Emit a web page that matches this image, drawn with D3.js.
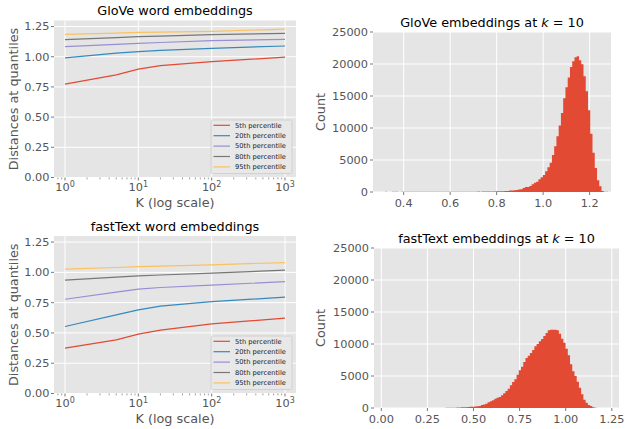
<!DOCTYPE html>
<html><head><meta charset="utf-8">
<script src="https://cdn.jsdelivr.net/npm/d3@7"></script>
<style>
body{margin:0;background:#fff;}
svg{display:block;font-family:"DejaVu Sans",sans-serif;}
</style></head>
<body>
<svg id="c" width="626" height="429"></svg>
<script>
// ---------------- data ----------------
const K = [1, 5, 10, 20, 100, 1000];
const percentileLabels = ["5th percentile", "20th percentile", "50th percentile", "80th percentile", "95th percentile"];
const seriesColors = ["#E24A33", "#348ABD", "#988ED5", "#777777", "#FBC15E"];

const gloveP5  = [0.773, 0.850, 0.897, 0.927, 0.960, 0.996];
const gloveP20 = [0.990, 1.030, 1.042, 1.053, 1.070, 1.089];
const gloveP50 = [1.084, 1.102, 1.111, 1.118, 1.133, 1.144];
const gloveP80 = [1.141, 1.158, 1.166, 1.170, 1.183, 1.194];
const gloveP95 = [1.185, 1.196, 1.202, 1.204, 1.210, 1.229];

const fastP5  = [0.374, 0.443, 0.490, 0.523, 0.575, 0.622];
const fastP20 = [0.553, 0.649, 0.690, 0.721, 0.759, 0.795];
const fastP50 = [0.778, 0.836, 0.861, 0.875, 0.894, 0.924];
const fastP80 = [0.935, 0.960, 0.971, 0.978, 0.993, 1.018];
const fastP95 = [1.026, 1.040, 1.048, 1.052, 1.062, 1.081];

const distTicks = [0, 0.25, 0.5, 0.75, 1.0, 1.25];
const kTickExps = [0, 1, 2, 3];

// histogram bins (100 bins each)
const gloveBinStart = 0.32, gloveBinWidth = 0.0097;
const gloveCounts = [
 20,15,18,22,25,20,18,24,26,22, 20,25,28,30,26,24,28,30,32,28,
 30,34,36,30,32,35,38,40,36,38, 42,45,40,44,48,50,46,50,55,52,
 56,60,58,62,66,70,75,80,90,100, 110,120,130,150,170,230,250,270,300,380,
 430,620,780,800,940,1200,1460,1600,1980,2290, 2650,3230,3850,4580,5780,7140,8700,10400,12340,14640,
 16350,17900,19530,20420,21040,21200,20570,19950,18080,15730, 12760,9120,6150,3750,1820,890,160,40,25,15];
const gloveTicks = [0.4, 0.6, 0.8, 1.0, 1.2];

const fastBinStart = 0.0208, fastBinWidth = 0.01208;
const fastCounts = [
 1,0,1,1,0,1,1,2,1,2, 2,3,2,3,4,3,5,4,6,5, 7,8,9,10,12,14,16,20,24,30,
 40,50,65,90,100,110,120,140,180,200, 230,290,330,450,560,680,890,1050,1200,1460,
 1600,1720,1980,2290,2660,3020,3540,4060,4480,5210, 5890,6460,7190,7810,8150,8600,9060,9630,10000,10420,
 10780,11250,11720,12130,12240,12240,12240,12130,11610,10830, 10210,9270,8230,6820,5730,5000,4100,3180,2140,1300,
 830,470,310,100,20,8,4,2,1,1];
const fastTicks = [0.00, 0.25, 0.50, 0.75, 1.00, 1.25];
const countTicks = [0, 5000, 10000, 15000, 20000, 25000];

// ---------------- drawing ----------------
const svg = d3.select("#c");
const BG = "#E5E5E5", TXT = "#555555";

function linePanel(o) {
  const g = svg.append("g");
  const x = d3.scaleLog().domain([Math.pow(10, -0.15), Math.pow(10, 3.15)]).range([o.left, o.right]);
  const y = d3.scaleLinear().domain([0, 1.30]).range([o.bottom, o.top]);
  g.append("rect").attr("x", o.left).attr("y", o.top).attr("width", o.right - o.left).attr("height", o.bottom - o.top).attr("fill", BG);
  kTickExps.forEach(e => {
    const xx = x(Math.pow(10, e));
    g.append("line").attr("x1", xx).attr("x2", xx).attr("y1", o.top).attr("y2", o.bottom).attr("stroke", "#fff").attr("stroke-width", 1);
  });
  distTicks.forEach(t => {
    const yy = y(t);
    g.append("line").attr("x1", o.left).attr("x2", o.right).attr("y1", yy).attr("y2", yy).attr("stroke", "#fff").attr("stroke-width", 1);
  });
  const line = d3.line().x((d, i) => x(K[i])).y(d => y(d));
  o.series.forEach((s, i) => {
    g.append("path").datum(s).attr("d", line).attr("fill", "none").attr("stroke", seriesColors[i]).attr("stroke-width", 1.2);
  });
  distTicks.forEach(t => {
    const yy = y(t);
    g.append("line").attr("x1", o.left - 3).attr("x2", o.left).attr("y1", yy).attr("y2", yy).attr("stroke", TXT).attr("stroke-width", 0.8);
    g.append("text").attr("x", o.left - 4.5).attr("y", yy).attr("dy", "0.35em").attr("text-anchor", "end")
      .attr("font-size", 11.3).attr("fill", TXT).text(d3.format(".2f")(t));
  });
  const [d0, d1] = x.domain();
  for (let e = -1; e <= 3; e++) {
    for (let m = 1; m <= 9; m++) {
      const v = m * Math.pow(10, e);
      if (v < d0 || v > d1) continue;
      const xx = x(v);
      g.append("line").attr("x1", xx).attr("x2", xx).attr("y1", o.bottom).attr("y2", o.bottom + (m === 1 ? 3 : 1.8))
        .attr("stroke", TXT).attr("stroke-width", m === 1 ? 0.8 : 0.6);
    }
  }
  kTickExps.forEach(e => {
    const t = g.append("text").attr("x", x(Math.pow(10, e))).attr("y", o.bottom + 13.5).attr("text-anchor", "middle")
      .attr("font-size", 11.3).attr("fill", TXT);
    t.append("tspan").text("10");
    t.append("tspan").attr("dy", -4.5).attr("font-size", 8).text(String(e));
  });
  g.append("text").attr("x", (o.left + o.right) / 2).attr("y", o.bottom + 29).attr("text-anchor", "middle")
    .attr("font-size", 12.8).attr("fill", TXT).text("K (log scale)");
  const cy = (o.top + o.bottom) / 2;
  g.append("text").attr("transform", `translate(13.5,${cy}) rotate(-90)`).attr("text-anchor", "middle").attr("dy", "0.35em")
    .attr("font-size", 12.8).attr("fill", TXT).text("Distances at quantiles");
  g.append("text").attr("x", (o.left + o.right) / 2).attr("y", o.top - 5.5).attr("text-anchor", "middle")
    .attr("font-size", 12.8).attr("fill", "#000").text(o.title);
  const lx = o.right - 85, ly = o.bottom - 57.5;
  g.append("rect").attr("x", lx).attr("y", ly).attr("width", 81).attr("height", 53.5).attr("rx", 1.5)
    .attr("fill", "#E8E8E8").attr("stroke", "#CCCCCC").attr("stroke-width", 0.8);
  percentileLabels.forEach((lab, i) => {
    const yy = ly + 5.3 + i * 10.4;
    g.append("line").attr("x1", lx + 2.5).attr("x2", lx + 19).attr("y1", yy).attr("y2", yy).attr("stroke", seriesColors[i]).attr("stroke-width", 1.2);
    g.append("text").attr("x", lx + 24).attr("y", yy).attr("dy", "0.35em").attr("font-size", 6.7).attr("fill", "#222").text(lab);
  });
}

function histPanel(o) {
  const g = svg.append("g");
  const x = d3.scaleLinear().domain(o.xdom).range([o.left, o.right]);
  const y = d3.scaleLinear().domain([0, 25000]).range([o.bottom, o.top]);
  g.append("rect").attr("x", o.left).attr("y", o.top).attr("width", o.right - o.left).attr("height", o.bottom - o.top).attr("fill", BG);
  o.ticks.forEach(t => {
    const xx = x(t);
    g.append("line").attr("x1", xx).attr("x2", xx).attr("y1", o.top).attr("y2", o.bottom).attr("stroke", "#fff").attr("stroke-width", 1);
  });
  countTicks.forEach(t => {
    const yy = y(t);
    g.append("line").attr("x1", o.left).attr("x2", o.right).attr("y1", yy).attr("y2", yy).attr("stroke", "#fff").attr("stroke-width", 1);
  });
  // histogram drawn as one step outline per panel (no seams between bars)
  const pts = [];
  o.counts.forEach((c, i) => {
    pts.push([o.start + i * o.width, c]);
    pts.push([o.start + (i + 1) * o.width, c]);
  });
  const area = d3.area().x(d => x(d[0])).y0(o.bottom).y1(d => y(d[1]));
  g.append("path").datum(pts).attr("d", area).attr("fill", "#E24A33");
  countTicks.forEach(t => {
    const yy = y(t);
    g.append("line").attr("x1", o.left - 3).attr("x2", o.left).attr("y1", yy).attr("y2", yy).attr("stroke", TXT).attr("stroke-width", 0.8);
    g.append("text").attr("x", o.left - 5).attr("y", yy).attr("dy", "0.35em").attr("text-anchor", "end")
      .attr("font-size", 11.3).attr("fill", TXT).text(String(t));
  });
  o.ticks.forEach(t => {
    const xx = x(t);
    g.append("line").attr("x1", xx).attr("x2", xx).attr("y1", o.bottom).attr("y2", o.bottom + 3).attr("stroke", TXT).attr("stroke-width", 0.8);
    g.append("text").attr("x", xx).attr("y", o.bottom + 14.5).attr("text-anchor", "middle")
      .attr("font-size", 11.3).attr("fill", TXT).text(d3.format(o.fmt)(t));
  });
  const cy = (o.top + o.bottom) / 2;
  g.append("text").attr("transform", `translate(321,${cy}) rotate(-90)`).attr("text-anchor", "middle").attr("dy", "0.35em")
    .attr("font-size", 12.8).attr("fill", TXT).text("Count");
  const t = g.append("text").attr("x", (o.left + o.right) / 2).attr("y", o.top - 5.5).attr("text-anchor", "middle")
    .attr("font-size", 12.8).attr("fill", "#000");
  t.append("tspan").text(o.title + " embeddings at ");
  t.append("tspan").attr("font-style", "italic").text("k");
  t.append("tspan").text(" = 10");
}

linePanel({left: 54, right: 296, top: 20.5, bottom: 177.5, title: "GloVe word embeddings",
  series: [gloveP5, gloveP20, gloveP50, gloveP80, gloveP95]});
linePanel({left: 54, right: 296, top: 236, bottom: 393.5, title: "fastText word embeddings",
  series: [fastP5, fastP20, fastP50, fastP80, fastP95]});
histPanel({left: 373, right: 611, top: 32, bottom: 192, xdom: [0.268, 1.292], ticks: gloveTicks, fmt: ".1f",
  counts: gloveCounts, start: gloveBinStart, width: gloveBinWidth, title: "GloVe"});
histPanel({left: 374, right: 619, top: 248, bottom: 408, xdom: [-0.0396, 1.289], ticks: fastTicks, fmt: ".2f",
  counts: fastCounts, start: fastBinStart, width: fastBinWidth, title: "fastText"});
</script>
</body></html>
